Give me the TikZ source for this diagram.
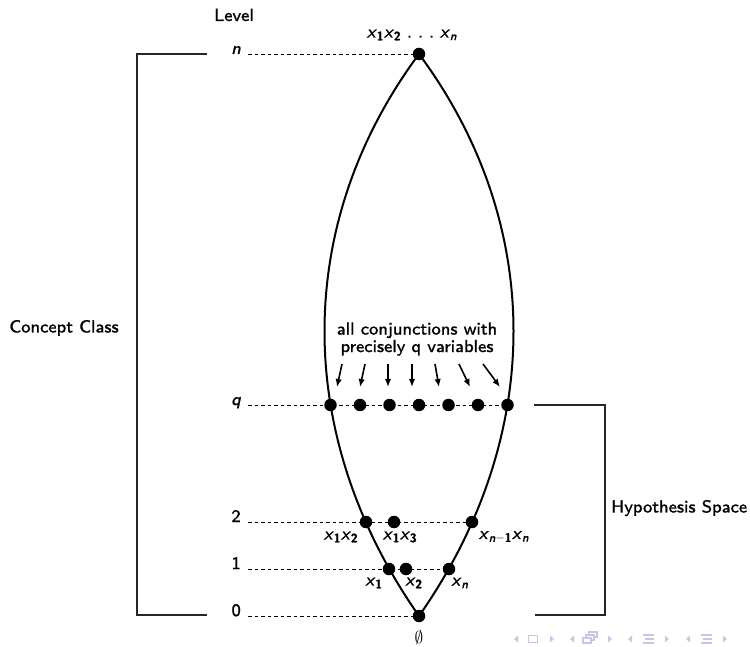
\documentclass[tikz,border=0pt]{standalone}
\usepackage{fontspec}
\setsansfont{lmsans8-regular}[Extension=.otf,FakeBold=1.2,ItalicFont=lmsans8-oblique,ItalicFeatures={FakeBold=1.2},BoldFont=lmsans10-bold,BoldFeatures={FakeBold=1.5},BoldItalicFont=lmsans10-boldoblique]
\usetikzlibrary{arrows.meta,backgrounds}
\definecolor{navcol}{RGB}{198,198,232}
\newcommand{\xs}[1]{\textit{x}\textsubscript{#1}}
\tikzset{
  dotnode/.style={circle,fill=black,inner sep=0pt,minimum size=12.5pt},
  lens/.style={line width=2pt},
  lvl/.style={dash pattern=on 3.5pt off 3pt,line width=0.9pt},
  brk/.style={line width=1.3pt,draw=black!85},
  arr/.style={line width=1.6pt,-{Latex[length=8pt,width=6.5pt]}},
  lab/.style={font=\sffamily\fontsize{17.5}{17.5}\selectfont,inner sep=0pt},
  navf/.style={fill=navcol,draw=none},
  navd/.style={draw=navcol,line width=1.1pt},
}
\begin{document}
\begin{tikzpicture}[x=1pt,y=1pt]
\useasboundingbox (0,0) rectangle (750,646);
% dots
\node[dotnode] (top) at (419,592) {};
\node[dotnode] (bot) at (419,30) {};
\node[dotnode] (q1) at (330.5,241) {};
\node[dotnode] (q2) at (360,241) {};
\node[dotnode] (q3) at (389.5,241) {};
\node[dotnode] (q4) at (419,241) {};
\node[dotnode] (q5) at (448.5,241) {};
\node[dotnode] (q6) at (478,241) {};
\node[dotnode] (q7) at (507.5,241) {};
\node[dotnode] (a2) at (366,124) {};
\node[dotnode] (b2) at (394,124) {};
\node[dotnode] (c2) at (472,124) {};
\node[dotnode] (a1) at (389,77) {};
\node[dotnode] (b1) at (406,77) {};
\node[dotnode] (c1) at (449,77) {};
% level labels
\node[lab] (level) at (234,631) {Level};
\node[lab,anchor=base east] (ln) at (241,592) {\itshape n};
\node[lab,anchor=base east] (lq) at (241,241) {\itshape q};
\node[lab,anchor=base east] (l2) at (241,124) {2};
\node[lab,anchor=base east] (l1) at (241,77) {1};
\node[lab,anchor=base east] (l0) at (241,30) {0};
\coordinate (dn) at (248,592);
\coordinate (dq) at (248,241);
\coordinate (d2) at (248,124);
\coordinate (d1) at (248,77);
\coordinate (d0) at (248,30);
\begin{scope}[on background layer]
  \draw[lens] (bot.center) .. controls (293,210) and (293,422) .. (top.center);
  \draw[lens] (bot.center) .. controls (545,210) and (545,422) .. (top.center);
  \draw[lvl] (dn) -- (top.center);
  \draw[lvl] (dq) -- (q7.center);
  \draw[lvl] (d2) -- (c2.center);
  \draw[lvl] (d1) -- (c1.center);
  \draw[lvl] (d0) -- (bot.center);
\end{scope}
% dot labels
\node[lab] (ttop) at (412,611) {\xs{\textbf{1}}\xs{\textbf{2}}\,\,.\,\,.\,\,.\,\,\xs{\textit{n}}};
\node[lab] (t12) at (341,109) {\xs{\textbf{1}}\xs{\textbf{2}}};
\node[lab] (t13) at (400,109) {\xs{\textbf{1}}\xs{\textbf{3}}};
\node[lab] (tn1) at (504,109) {\xs{\textit{n}$-$\textbf{1}}\xs{\textit{n}}};
\node[lab] (t1) at (374,63) {\xs{\textbf{1}}};
\node[lab] (t2) at (414,63) {\xs{\textbf{2}}};
\node[lab] (tn) at (460,63) {\xs{\textit{n}}};
\node[lab] (tempty) at (419,9) {$\emptyset$};
% caption and arrows
\node[lab,align=center] (cap) at (417,307) {all conjunctions with\\precisely q variables};
\coordinate (s1) at (342,282); \coordinate (e1) at (337,259);
\coordinate (s2) at (365,282); \coordinate (e2) at (360,259);
\coordinate (s3) at (388,282); \coordinate (e3) at (388,259);
\coordinate (s4) at (412,282); \coordinate (e4) at (412,259);
\coordinate (s5) at (435,282); \coordinate (e5) at (439,259);
\coordinate (s6) at (459,282); \coordinate (e6) at (470,259);
\coordinate (s7) at (483,282); \coordinate (e7) at (500,259);
\foreach \i in {1,...,7} { \draw[arr] (s\i) -- (e\i); }
% brackets
\coordinate (ca) at (207,592); \coordinate (cb) at (137,592);
\coordinate (cc) at (137,31); \coordinate (cd) at (207,31);
\draw[brk] (ca) -- (cb) -- (cc) -- (cd);
\coordinate (ha) at (534,241); \coordinate (hb) at (605,241);
\coordinate (hc) at (605,31); \coordinate (hd) at (535,31);
\draw[brk] (ha) -- (hb) -- (hc) -- (hd);
\node[lab] (concept) at (64,318) {Concept Class};
\node[lab,anchor=west] (hyp) at (611,138) {Hypothesis Space};
% navigation symbols
\begin{scope}
  \fill[navf] (518,10.5) -- (514,7) -- (518,3.5) -- cycle;
  \draw[navd] (528.5,3.5) rectangle (537.5,10.5);
  \fill[navf] (550,10.5) -- (554,7) -- (550,3.5) -- cycle;
  \fill[navf] (574,10.5) -- (570,7) -- (574,3.5) -- cycle;
  \draw[navd,fill=white] (589,9) rectangle (597,14);
  \draw[navd,fill=white] (586,6) rectangle (594,11);
  \draw[navd,fill=white] (583,3) rectangle (591,8);
  \fill[navf] (608,10.5) -- (612,7) -- (608,3.5) -- cycle;
  \fill[navf] (632,10.5) -- (628,7) -- (632,3.5) -- cycle;
  \draw[navd] (643,11) -- (654,11) (645,7) -- (654,7) (643,3) -- (654,3);
  \fill[navf] (665,10.5) -- (669,7) -- (665,3.5) -- cycle;
  \fill[navf] (690,10.5) -- (686,7) -- (690,3.5) -- cycle;
  \draw[navd] (701,11) -- (712,11) (703,7) -- (712,7) (701,3) -- (712,3);
  \fill[navf] (723,10.5) -- (727,7) -- (723,3.5) -- cycle;
\end{scope}
\end{tikzpicture}
\end{document}
